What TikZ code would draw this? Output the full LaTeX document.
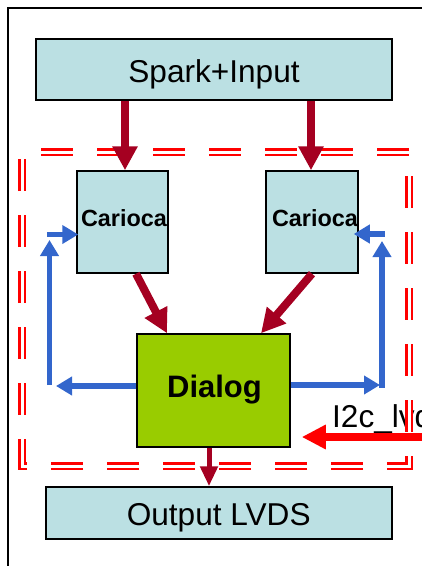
\documentclass[tikz,border=0pt]{standalone}
\usepackage{fontspec}
\setmainfont{Liberation Sans}
\usetikzlibrary{arrows.meta}
\definecolor{boxcyan}{HTML}{BBE0E3}
\definecolor{dialoggreen}{HTML}{99CC00}
\definecolor{flowred}{HTML}{A50021}
\definecolor{loopblue}{HTML}{3366CC}
\begin{document}
\begin{tikzpicture}[x=1pt,y=-1pt,
  block/.style={draw=black, line width=1.5pt, fill=boxcyan, inner sep=0pt},
  regtext/.style={font=\fontsize{31.6}{36}\selectfont, inner sep=0pt, anchor=base},
  boldbig/.style={font=\fontsize{31}{36}\selectfont\bfseries, inner sep=0pt, anchor=base},
  boldsmall/.style={font=\fontsize{23.4}{28}\selectfont\bfseries, inner sep=0pt, anchor=base},
  flow/.style={draw=flowred, line width=8pt, -{Triangle[width=24pt,length=24pt]}},
  loop/.style={draw=loopblue, line width=5.5pt, -{Triangle[width=18pt,length=16pt]}},
  feed/.style={draw=red, line width=8pt, -{Triangle[width=23pt,length=24pt]}},
  zone/.style={draw=red, double=white, line width=2.2pt, double distance=3pt,
    dash pattern=on 32pt off 24pt, dash phase=37pt, line join=miter}
]
\useasboundingbox (0,0) rectangle (422,566);

% outer frame
\draw[line width=2pt] (8,570) -- (8,8) -- (430,8);

% external control label
\node[regtext, anchor=base west] (i2c) at (332,427) {I2c\_lvds};

% dashed boundary of the board
\draw[zone] (22,152) -- (409,152) -- (409,466) -- (22,466) -- cycle;

% blocks
\node[block, line width=2pt, minimum width=356pt, minimum height=61pt] (spark) at (214,69.5) {};
\node[block, minimum width=91pt, minimum height=102pt] (carL) at (122.5,222) {};
\node[block, minimum width=92pt, minimum height=102pt] (carR) at (312,222) {};
\node[block, fill=dialoggreen, minimum width=153pt, minimum height=113pt] (dialog) at (213.5,390.5) {};
\node[block, minimum width=346pt, minimum height=52pt] (output) at (219,513) {};

% block texts
\node[regtext] (sparktxt) at (214,82) {Spark+Input};
\node[boldsmall] (carLtxt) at (124,226) {Carioca};
\node[boldsmall] (carRtxt) at (315,226) {Carioca};
\node[boldbig] (dialogtxt) at (214.5,397) {Dialog};
\node[regtext] (outputtxt) at (218.7,525) {Output LVDS};

% data flow
\coordinate (inL) at ([xshift=2.5pt]carL.north);
\coordinate (inR) at ([xshift=-1pt]carR.north);
\draw[flow] (inL |- spark.south) -- (inL);
\draw[flow] (inR |- spark.south) -- (inR);
\draw[flow] ([xshift=13.5pt]carL.south) -- ([xshift=-46.5pt]dialog.north);
\draw[flow] (carR.south) -- ([xshift=47.5pt]dialog.north);
\draw[flow, line width=5pt, -{Triangle[width=17pt,length=20pt]}]
  ([xshift=-4.5pt]dialog.south) -- ([xshift=-10pt]output.north);

% feedback loops
\coordinate (lhEnd) at (56,386);
\coordinate (lvBot) at (49.5,385);
\coordinate (lvTop) at (49.5,240);
\coordinate (lhStart) at (46.75,234.5);
\draw[loop] ([yshift=4.5pt]dialog.west) -- (lhEnd);
\draw[loop] (lvBot) -- (lvTop);
\draw[loop] (lhStart) -- ([xshift=2pt,yshift=-12.5pt]carL.west);

\coordinate (rhEnd) at (380,385);
\coordinate (rvBot) at (382,387.75);
\coordinate (rvTop) at (382,241);
\coordinate (rhStart) at (384.75,234);
\draw[loop] ([yshift=5.5pt]dialog.east) -- (rhEnd);
\draw[loop] (rvBot) -- (rvTop);
\draw[loop] (rhStart) -- ([xshift=-5pt,yshift=-12pt]carR.east);

% control input
\coordinate (feedIn) at (430,437);
\draw[feed] (feedIn) -- ([xshift=11pt,yshift=-46.5pt]dialog.east);
\end{tikzpicture}
\end{document}
